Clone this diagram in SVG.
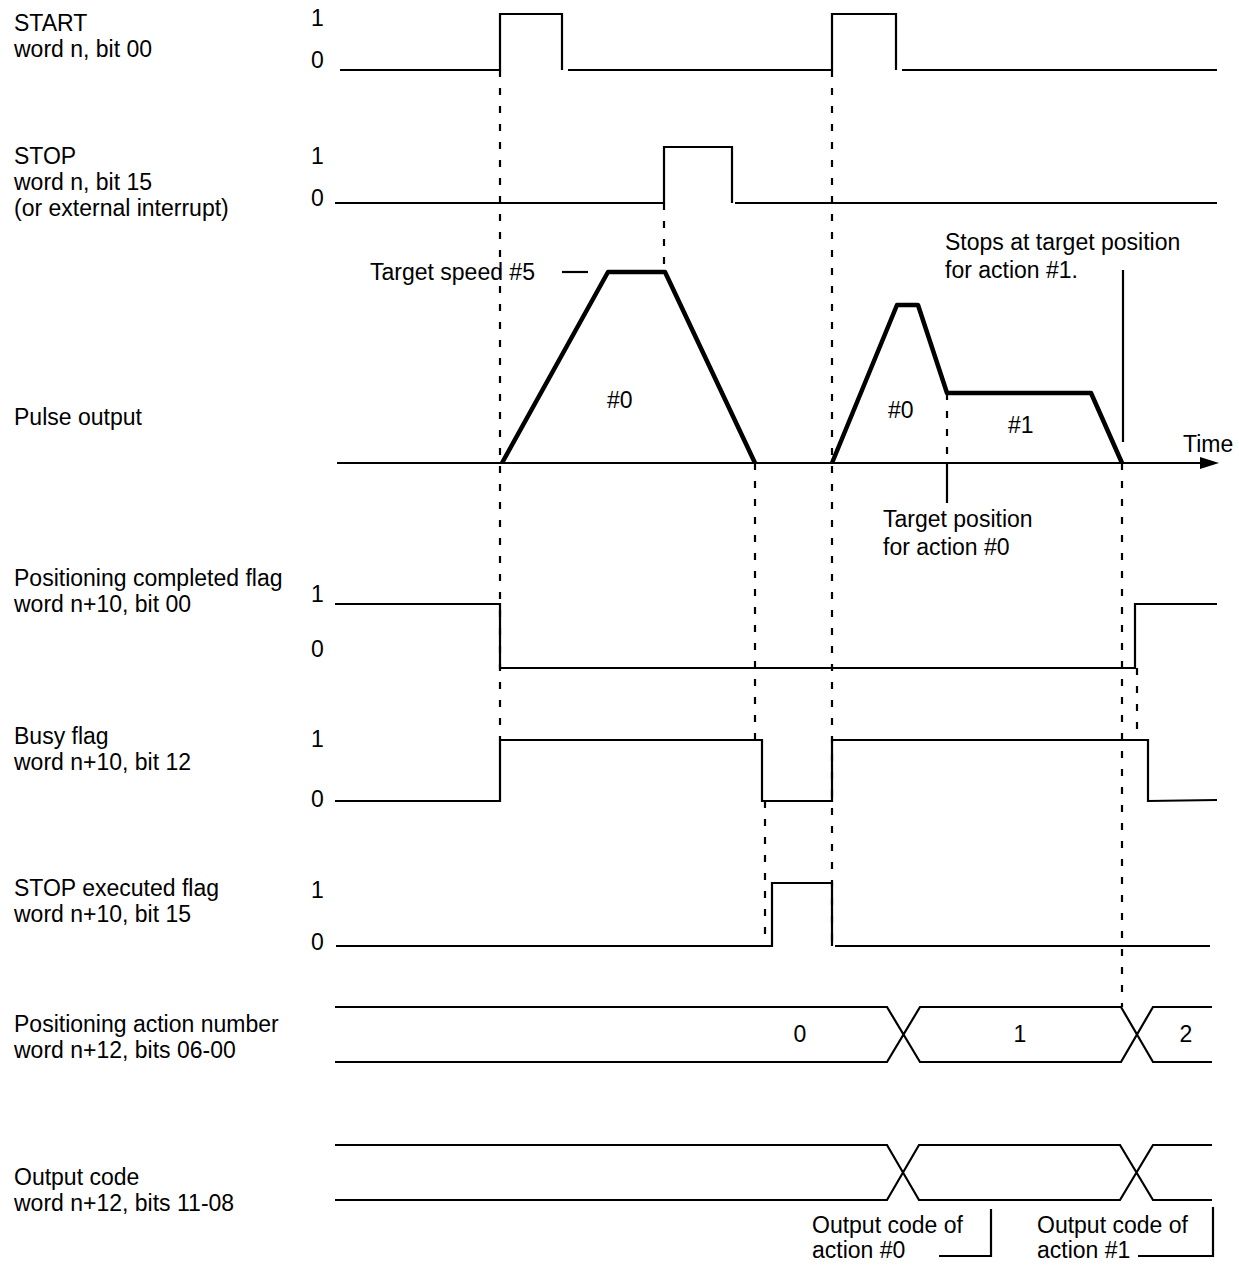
<svg xmlns="http://www.w3.org/2000/svg" width="1239" height="1268" viewBox="0 0 1239 1268">
<style>
text { font-family: "Liberation Sans", Arial, sans-serif; font-size: 23px; fill: #000; }
.sig { fill: none; stroke: #000; stroke-width: 2.2; stroke-linejoin: miter; }
.thick { fill: none; stroke: #000; stroke-width: 4.5; stroke-linejoin: round; }
.dash { fill: none; stroke: #000; stroke-width: 2.2; stroke-dasharray: 7 11; }
.mid { text-anchor: middle; }
</style>
<rect width="1239" height="1268" fill="#fff"/>

<g id="start">
  <text x="14" y="31">START</text>
  <text x="14" y="57">word n, bit 00</text>
  <text x="311" y="26">1</text>
  <text x="311" y="68">0</text>
  <polyline class="sig" points="340,70 500,70 500,14 562,14 562,70"/>
  <polyline class="sig" points="568,70 832,70 832,14 896,14 896,70"/>
  <line class="sig" x1="902" y1="70" x2="1217" y2="70"/>
</g>

<g id="stop">
  <text x="14" y="164">STOP</text>
  <text x="14" y="190">word n, bit 15</text>
  <text x="14" y="216">(or external interrupt)</text>
  <text x="311" y="164">1</text>
  <text x="311" y="206">0</text>
  <polyline class="sig" points="335,203 664,203 664,147 732,147 732,203"/>
  <line class="sig" x1="735" y1="203" x2="1217" y2="203"/>
</g>

<g id="pulse-output">
  <text x="14" y="425">Pulse output</text>
  <line class="sig" x1="337" y1="463" x2="1204" y2="463"/>
  <polygon points="1200,457 1219,463 1200,469" fill="#000"/>
  <text x="1183" y="452">Time</text>
  <polyline class="thick" points="502,463 608,272 665,272 755,463"/>
  <polyline class="thick" points="832,463 897,305 918,305 947,393 1091,393 1122,463"/>
  <line class="sig" x1="562" y1="272" x2="588" y2="272"/>
  <text x="370" y="280">Target speed #5</text>
  <text x="607" y="408">#0</text>
  <text x="888" y="418">#0</text>
  <text x="1008" y="433">#1</text>
  <text x="945" y="250">Stops at target position</text>
  <text x="945" y="278">for action #1.</text>
  <line class="sig" x1="1123" y1="270" x2="1123" y2="442"/>
  <line class="sig" x1="947" y1="463" x2="947" y2="503"/>
  <text x="883" y="527">Target position</text>
  <text x="883" y="555">for action #0</text>
</g>

<g id="positioning-completed">
  <text x="14" y="586">Positioning completed flag</text>
  <text x="14" y="612">word n+10, bit 00</text>
  <text x="311" y="602">1</text>
  <text x="311" y="657">0</text>
  <polyline class="sig" points="335,604 500,604 500,668 1135,668 1135,604 1217,604"/>
</g>

<g id="busy">
  <text x="14" y="744">Busy flag</text>
  <text x="14" y="770">word n+10, bit 12</text>
  <text x="311" y="747">1</text>
  <text x="311" y="807">0</text>
  <polyline class="sig" points="335,801 500,801 500,740 762,740 762,801 832,801 832,740 1148,740 1148,801 1217,800"/>
</g>

<g id="stop-executed">
  <text x="14" y="896">STOP executed flag</text>
  <text x="14" y="922">word n+10, bit 15</text>
  <text x="311" y="898">1</text>
  <text x="311" y="950">0</text>
  <polyline class="sig" points="336,946 772,946 772,883 832,883 832,946"/>
  <line class="sig" x1="835" y1="946" x2="1210" y2="946"/>
</g>

<g id="action-number">
  <text x="14" y="1032">Positioning action number</text>
  <text x="14" y="1058">word n+12, bits 06-00</text>
  <path class="sig" d="M335,1007 H887 L920,1062 H1121 L1153,1007 H1212 M335,1062 H887 L920,1007 H1121 L1153,1062 H1212"/>
  <text class="mid" x="800" y="1042">0</text>
  <text class="mid" x="1020" y="1042">1</text>
  <text class="mid" x="1186" y="1042">2</text>
</g>

<g id="output-code">
  <text x="14" y="1185">Output code</text>
  <text x="14" y="1211">word n+12, bits 11-08</text>
  <path class="sig" d="M335,1145 H887 L919,1200 H1120 L1153,1145 H1212 M335,1200 H887 L919,1145 H1120 L1153,1200 H1212"/>
  <text x="812" y="1233">Output code of</text>
  <text x="812" y="1258">action #0</text>
  <path class="sig" d="M991,1209 V1256 H939"/>
  <text x="1037" y="1233">Output code of</text>
  <text x="1037" y="1258">action #1</text>
  <path class="sig" d="M1213,1207 V1256 H1138"/>
</g>

<g id="connectors">
  <line class="dash" x1="500" y1="70" x2="500" y2="740"/>
  <line class="dash" x1="664" y1="203" x2="664" y2="272"/>
  <line class="dash" x1="755" y1="463" x2="755" y2="740"/>
  <line class="dash" x1="765" y1="801" x2="765" y2="946"/>
  <line class="dash" x1="832" y1="70" x2="832" y2="946"/>
  <line class="dash" x1="947" y1="393" x2="947" y2="463"/>
  <line class="dash" x1="1122" y1="463" x2="1122" y2="1007"/>
  <line class="dash" x1="1137" y1="668" x2="1137" y2="740"/>
</g>
</svg>
